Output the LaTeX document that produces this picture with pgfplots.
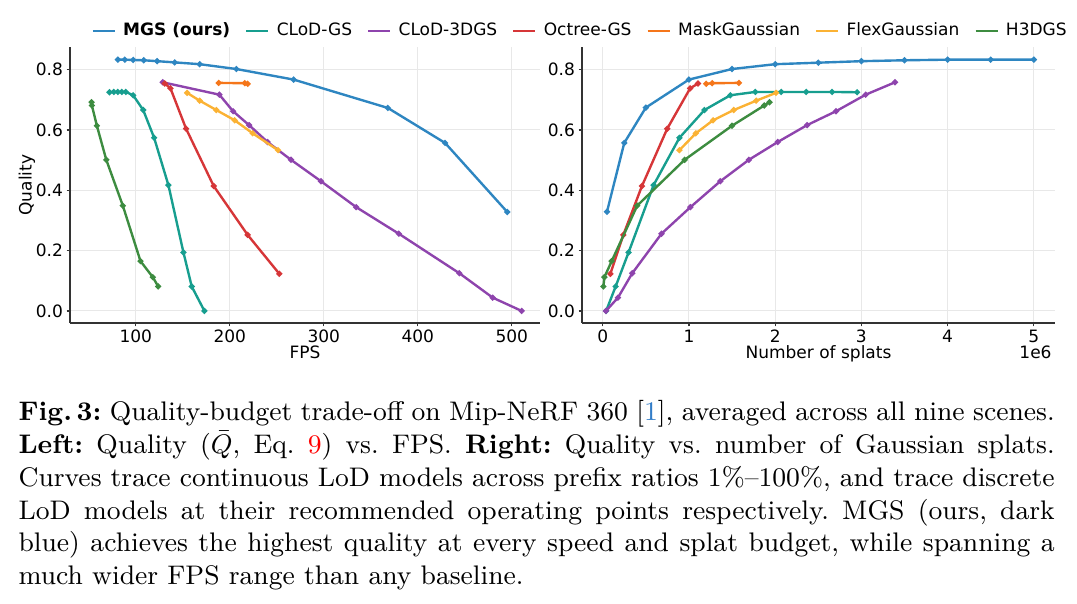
\documentclass[border=0pt]{standalone}
\usepackage{pgfplots}
\pgfplotsset{compat=1.18}
\usepackage{fontspec}
\usepackage{xcolor}
\newfontfamily\dejavu{DejaVu Sans}
\definecolor{cMGS}{RGB}{46,134,193}
\definecolor{cCG}{RGB}{23,158,143}
\definecolor{cCT}{RGB}{142,68,173}
\definecolor{cOct}{RGB}{214,54,56}
\definecolor{cMask}{RGB}{245,118,26}
\definecolor{cFlex}{RGB}{251,178,52}
\definecolor{cHT}{RGB}{61,140,64}
\definecolor{citeblue}{RGB}{50,125,200}
\newcommand{\cf}{\dejavu\fontsize{5.7}{6.8}\selectfont}
\pgfplotsset{
  mgsbase/.style={
    scale only axis, height=92.46pt,
    clip mode=individual,
    axis lines=left, axis line style={-, black!80, line width=0.4pt},
    tick align=outside, major tick length=1.17pt,
    tick style={black!80, line width=0.4pt},
    grid=major, grid style={black!9, line width=0.35pt},
    ymin=-0.04, ymax=0.875, ytick={0,0.2,0.4,0.6,0.8},
    yticklabel style={/pgf/number format/fixed, /pgf/number format/fixed zerofill, /pgf/number format/precision=1, inner sep=1pt},
    xticklabel style={inner sep=1pt},
    /pgf/number format/assume math mode=true,
    tick label style={font=\cf},
    label style={font=\cf},
    every axis plot/.append style={line width=0.8pt, mark=*, mark size=0.55pt, mark options={solid}},
  }
}
\begin{document}
\begin{tikzpicture}
\path[use as bounding box] (0pt,0pt) rectangle (360.795pt,-202.34pt);
% ---------------- Left: Quality vs FPS
\begin{axis}[mgsbase, at={(23.45pt,-108.205pt)}, anchor=south west, width=157.45pt,
  xmin=30, xmax=530, xtick={100,200,300,400,500},
  xlabel={FPS}, ylabel={Quality},
  xlabel style={at={(axis description cs:0.5,-0.108)}, anchor=center},
  ylabel style={at={(axis description cs:-0.0915,0.5)}, anchor=center},
  legend columns=7,
  legend style={draw=none, fill=none, font=\cf, at={(axis description cs:0.0447,1.058)}, anchor=west,
    inner sep=0pt, nodes={inner sep=0pt},
    /tikz/every odd column/.append style={column sep=2.4pt},
    /tikz/every even column/.append style={column sep=5.0pt}},
  legend image code/.code={\draw[#1] (0pt,0pt) -- (7.4pt,0pt);},
]
\addplot[color=cMGS] coordinates {
 (80.9,0.833) (88.3,0.833) (97.2,0.832) (108.5,0.831) (122.7,0.828) (141.4,0.824)
 (168.0,0.818) (207.0,0.802) (267.9,0.767) (368.1,0.673) (429.0,0.557) (495.2,0.328)};
\addlegendentry{\textbf{MGS (ours)}}
\addplot[color=cCG] coordinates {
 (72.1,0.725) (76.6,0.726) (80.9,0.726) (85.1,0.726) (89.4,0.726) (97.2,0.715)
 (107.9,0.666) (119.5,0.574) (134.7,0.417) (150.7,0.194) (159.5,0.081) (173.0,0.0)};
\addlegendentry{CLoD-GS}
\addplot[color=cCT] coordinates {
 (128.7,0.758) (188.9,0.717) (203.5,0.662) (220.5,0.616) (240.2,0.560) (265.1,0.501)
 (297.0,0.430) (334.5,0.344) (379.8,0.256) (444.2,0.125) (479.7,0.044) (510.5,0.0)};
\addlegendentry{CLoD-3DGS}
\addplot[color=cOct] coordinates {
 (130.8,0.754) (136.9,0.738) (153.5,0.604) (182.9,0.414) (219.0,0.252) (252.7,0.123)};
\addlegendentry{Octree-GS}
\addplot[color=cMask] coordinates {
 (188.2,0.756) (216.0,0.755) (219.0,0.753)};
\addlegendentry{MaskGaussian}
\addplot[color=cFlex] coordinates {
 (154.6,0.723) (168.0,0.697) (185.7,0.666) (205.2,0.632) (224.3,0.589) (251.3,0.533)};
\addlegendentry{FlexGaussian}
\addplot[color=cHT] coordinates {
 (53.0,0.692) (53.3,0.681) (58.6,0.614) (68.6,0.501) (86.2,0.349) (105.0,0.165) (118.1,0.112) (123.8,0.081)};
\addlegendentry{H3DGS}
\end{axis}
% ---------------- Right: Quality vs number of splats
\begin{axis}[mgsbase, at={(194.97pt,-108.205pt)}, anchor=south west, width=158.455pt,
  xmin=-0.24, xmax=5.245, xtick={0,1,2,3,4,5}, scaled x ticks=false,
  xlabel={Number of splats},
  xlabel style={at={(axis description cs:0.5,-0.112)}, anchor=center},
]
\addplot[color=cMGS] coordinates {
 (5.0,0.833) (4.5,0.833) (4.0,0.833) (3.5,0.831) (3.0,0.828) (2.5,0.823)
 (2.0,0.818) (1.5,0.802) (1.0,0.767) (0.5,0.674) (0.25,0.557) (0.05,0.329)};
\addplot[color=cCG] coordinates {
 (2.95,0.725) (2.66,0.726) (2.36,0.726) (2.07,0.726) (1.77,0.726) (1.48,0.715)
 (1.18,0.666) (0.89,0.574) (0.59,0.417) (0.30,0.194) (0.15,0.081) (0.04,0.0)};
\addplot[color=cCT] coordinates {
 (3.39,0.758) (3.05,0.717) (2.705,0.662) (2.37,0.616) (2.03,0.560) (1.695,0.501)
 (1.364,0.430) (1.017,0.344) (0.682,0.256) (0.343,0.125) (0.177,0.044) (0.038,0.0)};
\addplot[color=cOct] coordinates {
 (1.106,0.754) (1.014,0.738) (0.748,0.604) (0.455,0.414) (0.239,0.252) (0.089,0.123)};
\addplot[color=cMask] coordinates {
 (1.58,0.756) (1.27,0.755) (1.20,0.753)};
\addplot[color=cFlex] coordinates {
 (2.01,0.723) (1.78,0.697) (1.52,0.666) (1.28,0.632) (1.08,0.589) (0.89,0.533)};
\addplot[color=cHT] coordinates {
 (1.934,0.692) (1.873,0.681) (1.50,0.614) (0.95,0.501) (0.40,0.349) (0.104,0.165) (0.02,0.112) (0.008,0.081)};
\node[anchor=east, font=\cf, inner sep=0pt] at (axis description cs:0.994,-0.105) {1e6};
\end{axis}
% ---------------- Caption
\node[anchor=base west, inner sep=0pt, text width=347.12pt, align=justify,
      font=\fontsize{9}{11}\selectfont] at (6.03pt,-140.87pt) {%
\frenchspacing\noindent\textbf{Fig.\,3:} Quality-budget trade-off on Mip-NeRF 360 [{\color{citeblue}1}], averaged across all nine scenes.\linebreak
\textbf{Left:} Quality ($\bar{Q}$, Eq.~{\color{red}9}) vs. FPS. \textbf{Right:} Quality vs. number of Gaussian splats.\linebreak
Curves trace continuous LoD models across prefix ratios 1\%--100\%, and trace discrete\linebreak
LoD models at their recommended operating points respectively. MGS (ours, dark\linebreak
blue) achieves the highest quality at every speed and splat budget, while spanning a\linebreak
much wider FPS range than any baseline.};
\end{tikzpicture}
\end{document}
